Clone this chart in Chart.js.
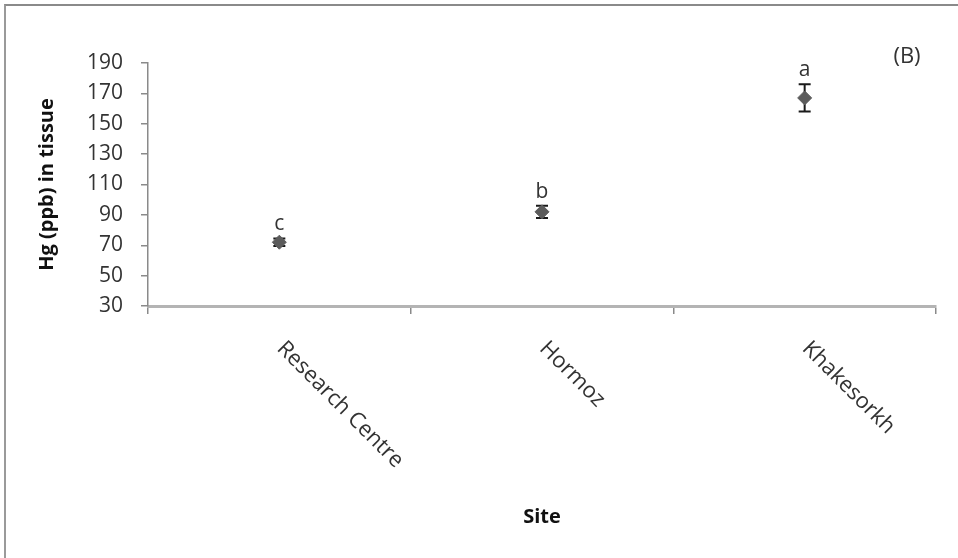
<!DOCTYPE html>
<html>
<head>
<meta charset="utf-8">
<script src="https://cdn.jsdelivr.net/npm/chart.js@4.4.1/dist/chart.umd.min.js"></script>
<style>
  html, body { margin: 0; padding: 0; background: #fff; }
  #wrap { position: relative; width: 958px; height: 558px; }
  #frame { position: absolute; left: 4px; top: 4px; right: 0; bottom: 0;
           border-left: 2px solid #9a9a9a; border-top: 2px solid #8a8a8a; pointer-events: none; }
  canvas { position: absolute; left: 0; top: 0; }
</style>
</head>
<body>
<div id="wrap">
  <canvas id="chart" width="958" height="558"></canvas>
  <div id="frame"></div>
</div>
<script>
// ===== DATA =====
const sites = ["Research Centre", "Hormoz", "Khakesorkh"];
const hgMeans = [72, 92, 167];
const hgErrors = [2.5, 4, 9];
const groupLetters = ["c", "b", "a"];
const yTicks = { min: 30, max: 190, step: 20 };
const panelLabel = "(B)";

const FONT = "'Open Sans', sans-serif";
const TEXT_COLOR = "#333";

// ===== EXTRA DRAWING: error bars, letters, rotated site names =====
const errorBarPlugin = {
  id: "errorBars",
  beforeDatasetsDraw(chart) {
    const { ctx, scales: { x, y } } = chart;
    ctx.save();
    ctx.strokeStyle = "#1a1a1a";
    ctx.lineWidth = 2;
    hgMeans.forEach((m, i) => {
      const px = x.getPixelForValue(i);
      const top = y.getPixelForValue(m + hgErrors[i]);
      const bot = y.getPixelForValue(m - hgErrors[i]);
      ctx.beginPath();
      ctx.moveTo(px, top); ctx.lineTo(px, bot);
      ctx.moveTo(px - 6, top); ctx.lineTo(px + 6, top);
      ctx.moveTo(px - 6, bot); ctx.lineTo(px + 6, bot);
      ctx.stroke();
    });
    ctx.restore();
  },
  afterDatasetsDraw(chart) {
    const { ctx, scales: { x, y } } = chart;
    ctx.save();
    ctx.fillStyle = TEXT_COLOR;
    ctx.font = "21px " + FONT;
    ctx.textAlign = "center";
    ctx.textBaseline = "alphabetic";
    groupLetters.forEach((t, i) => {
      const px = x.getPixelForValue(i);
      const top = y.getPixelForValue(hgMeans[i] + hgErrors[i]);
      ctx.fillText(t, px, top - 8);
    });

    // site names, rotated 45deg downwards
    ctx.font = "22px " + FONT;
    ctx.textAlign = "left";
    ctx.textBaseline = "middle";
    sites.forEach((s, i) => {
      const px = x.getPixelForValue(i);
      ctx.save();
      ctx.translate(px + 1, y.bottom + 39);
      ctx.rotate(Math.PI / 4);
      ctx.fillText(s, 0, 0);
      ctx.restore();
    });

    // panel label
    ctx.font = "22px " + FONT;
    ctx.textAlign = "center";
    ctx.fillText(panelLabel, 907, 57);
    ctx.restore();
  }
};

// ===== CHART =====
new Chart(document.getElementById("chart"), {
  type: "line",
  data: {
    labels: sites,
    datasets: [{
      data: hgMeans,
      showLine: false,
      pointStyle: "rectRot",
      pointRadius: 7,
      pointHoverRadius: 7,
      backgroundColor: "#5c5c5c",
      borderColor: "#5c5c5c"
    }]
  },
  options: {
    responsive: false,
    animation: false,
    layout: { padding: { top: 63, right: 22, left: 0, bottom: 0 } },
    plugins: { legend: { display: false }, tooltip: { enabled: false } },
    scales: {
      x: {
        type: "category",
        offset: true,
        grid: { offset: true, drawOnChartArea: false, drawTicks: true, tickLength: 8, color: "#8a8a8a", lineWidth: 1.5 },
        border: { color: "#b4b4b4", width: 3 },
        ticks: { display: false },
        title: { display: true, text: "Site", color: "#111", font: { family: FONT, size: 20, weight: "bold" }, padding: { bottom: 29 } },
        afterFit: s => { s.height = 252; }
      },
      y: {
        min: yTicks.min,
        max: yTicks.max,
        ticks: { stepSize: yTicks.step, padding: 18, color: TEXT_COLOR, font: { family: FONT, size: 21 } },
        grid: { drawOnChartArea: false, drawTicks: true, tickLength: 7, color: "#8a8a8a", lineWidth: 1.5 },
        border: { color: "#8a8a8a", width: 1.5 },
        title: { display: true, text: "Hg (ppb) in tissue", color: "#111", font: { family: FONT, size: 20, weight: "bold" }, padding: { top: 35 } },
        afterFit: s => { s.width = 148; }
      }
    }
  },
  plugins: [errorBarPlugin]
});
</script>
</body>
</html>
